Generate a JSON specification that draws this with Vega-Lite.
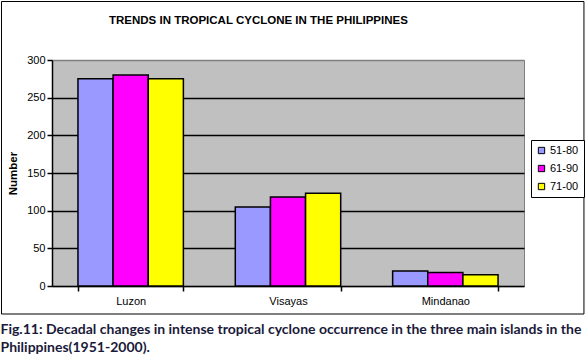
{
  "$schema": "https://vega.github.io/schema/vega-lite/v6.json",
  "background": "white",
  "padding": {"left": 0, "top": 0, "right": 1, "bottom": 1},
  "autosize": {"type": "pad"},
  "config": {
    "font": "Liberation Sans",
    "view": {"fill": "#C0C0C0", "stroke": "#808080", "strokeWidth": 1}
  },
  "title": {
    "text": ["Fig.11: Decadal changes in intense tropical cyclone occurrence in the three main islands in the", "Philippines(1951-2000)."],
    "orient": "bottom",
    "anchor": "start",
    "font": "Lato",
    "fontWeight": "bold",
    "fontSize": 14,
    "color": "#1a1a3a",
    "lineHeight": 18,
    "offset": 8
  },
  "vconcat": [
    {
      "width": 472,
      "height": 226,
      "title": {
        "text": "TRENDS IN TROPICAL CYCLONE IN THE PHILIPPINES",
        "anchor": "start",
        "frame": "group",
        "dx": 57,
        "offset": -25,
        "fontSize": 11.5,
        "fontWeight": "bold",
        "color": "black",
        "font": "Liberation Sans"
      },
      "layer": [
        {
          "data": {"values": [{"part": "frame"}]},
          "mark": {"type": "rect", "filled": false, "stroke": "black", "strokeWidth": 1},
          "encoding": {
            "x": {"datum": -0.107, "type": "quantitative", "scale": {"domain": [0, 1]}, "axis": null},
            "x2": {"datum": 1.127},
            "y": {"datum": 377.65, "type": "quantitative", "scale": {"domain": [0, 300]}, "axis": null},
            "y2": {"datum": -37.17}
          }
        },
        {
          "data": {
            "values": [
              {"island": "Luzon", "period": "51-80", "value": 275},
              {"island": "Luzon", "period": "61-90", "value": 280},
              {"island": "Luzon", "period": "71-00", "value": 275},
              {"island": "Visayas", "period": "51-80", "value": 105},
              {"island": "Visayas", "period": "61-90", "value": 118},
              {"island": "Visayas", "period": "71-00", "value": 123},
              {"island": "Mindanao", "period": "51-80", "value": 20},
              {"island": "Mindanao", "period": "61-90", "value": 18},
              {"island": "Mindanao", "period": "71-00", "value": 15}
            ]
          },
          "mark": {"type": "bar", "stroke": "black", "strokeWidth": 1.5},
          "encoding": {
            "x": {
              "field": "island",
              "type": "nominal",
              "sort": ["Luzon", "Visayas", "Mindanao"],
              "scale": {"paddingInner": 0.33, "paddingOuter": 0.165},
              "axis": {
                "title": null,
                "labelAngle": 0,
                "tickBand": "extent",
                "domainColor": "black",
                "domainWidth": 1.5,
                "tickColor": "black",
                "tickSize": 5,
                "tickWidth": 1.5,
                "labelFont": "Liberation Sans",
                "labelFontSize": 11,
                "labelColor": "black",
                "labelPadding": 4
              }
            },
            "xOffset": {
              "field": "period",
              "type": "nominal",
              "sort": ["51-80", "61-90", "71-00"],
              "scale": {"paddingInner": 0, "paddingOuter": 0}
            },
            "y": {
              "field": "value",
              "type": "quantitative",
              "scale": {"domain": [0, 300]},
              "axis": {
                "title": "Number",
                "values": [0, 50, 100, 150, 200, 250, 300],
                "grid": true,
                "gridColor": {"condition": {"test": "datum.value === 300 || datum.value === 0", "value": "#808080"}, "value": "black"},
                "gridWidth": 1.5,
                "domainColor": "black",
                "domainWidth": 1.5,
                "tickColor": "black",
                "tickSize": 5,
                "tickWidth": 1.5,
                "labelFont": "Liberation Sans",
                "labelFontSize": 11,
                "labelColor": "black",
                "labelPadding": 2,
                "titleFont": "Liberation Sans",
                "titleFontSize": 11.5,
                "titleFontWeight": "bold",
                "titleColor": "black",
                "titlePadding": 8
              }
            },
            "color": {
              "field": "period",
              "type": "nominal",
              "sort": ["51-80", "61-90", "71-00"],
              "scale": {"range": ["#9999FF", "#FF00FF", "#FFFF00"]},
              "legend": {
                "title": null,
                "orient": "none",
                "legendX": 479,
                "legendY": 80,
                "strokeColor": "black",
                "fillColor": "white",
                "padding": 5,
                "symbolType": "square",
                "symbolSize": 40,
                "symbolStrokeColor": "black",
                "symbolStrokeWidth": 1,
                "labelFont": "Liberation Sans",
                "labelFontSize": 11,
                "labelColor": "black",
                "rowPadding": 6,
                "labelOffset": 3
              }
            }
          }
        }
      ],
      "resolve": {"scale": {"x": "independent", "y": "independent"}}
    }
  ]
}
